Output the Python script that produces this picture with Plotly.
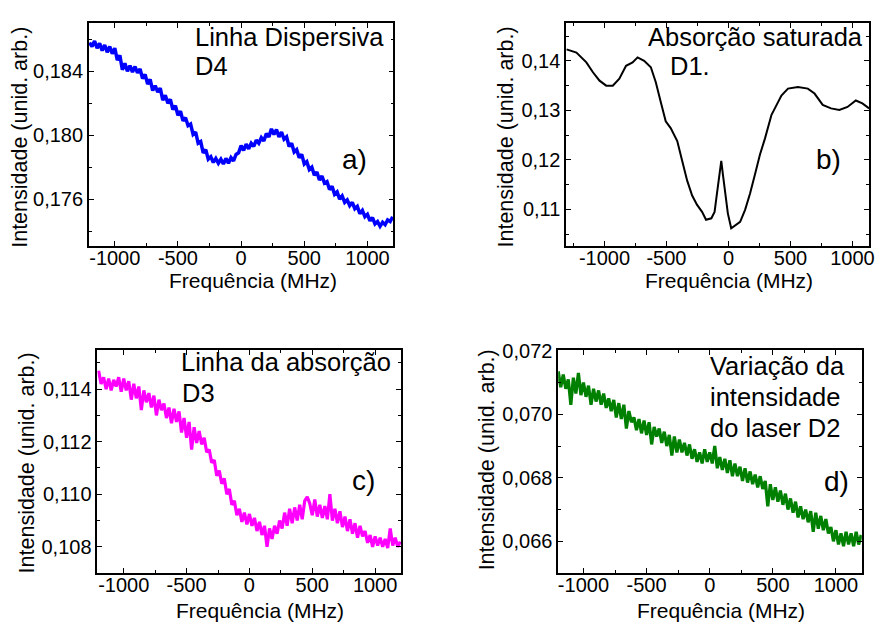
import plotly.graph_objects as go

W, H = 888, 623
FONT = "Liberation Sans, Arial, sans-serif"

# ---------------- data ----------------
freq_a = list(range(-1200, 1201, 20))
int_a = [
    0.18580, 0.18555, 0.18590, 0.18545, 0.18575, 0.18530, 0.18565, 0.18520, 0.18555, 0.18510,
    0.18545, 0.18470, 0.18500, 0.18410, 0.18450, 0.18400, 0.18435, 0.18395, 0.18430, 0.18390,
    0.18415, 0.18355, 0.18380, 0.18320, 0.18350, 0.18280, 0.18310, 0.18270, 0.18295, 0.18220,
    0.18250, 0.18200, 0.18225, 0.18160, 0.18185, 0.18125, 0.18150, 0.18090, 0.18110, 0.18060,
    0.18070, 0.18005, 0.18020, 0.17950, 0.17960, 0.17890, 0.17910, 0.17850, 0.17865, 0.17830,
    0.17855, 0.17825, 0.17850, 0.17820, 0.17855, 0.17825, 0.17860, 0.17840, 0.17880, 0.17890,
    0.17935, 0.17905, 0.17945, 0.17915, 0.17950, 0.17930, 0.17970, 0.17950, 0.17985, 0.17965,
    0.18010, 0.17990, 0.18040, 0.18005, 0.18035, 0.17990, 0.18020, 0.17975, 0.17990, 0.17930,
    0.17950, 0.17895, 0.17910, 0.17860, 0.17880, 0.17820, 0.17835, 0.17785, 0.17800, 0.17750,
    0.17770, 0.17720, 0.17745, 0.17700, 0.17710, 0.17660, 0.17680, 0.17630, 0.17645, 0.17600,
    0.17620, 0.17580, 0.17595, 0.17560, 0.17580, 0.17540, 0.17555, 0.17510, 0.17530, 0.17490,
    0.17505, 0.17465, 0.17485, 0.17445, 0.17460, 0.17430, 0.17455, 0.17440, 0.17470, 0.17460,
    0.17490,
]

freq_b = [-1306, -1226, -1146, -1093, -1040, -986, -933, -880, -826, -773, -733, -680,
          -626, -586, -546, -506, -466, -413, -373, -333, -293, -253, -213, -181, -138,
          -112, -93, -74, -58, -45, -26, -5, 22, 54, 94, 134, 174, 214, 254, 294, 347,
          374, 427, 480, 560, 640, 694, 760, 827, 894, 960, 1027, 1080, 1134]
int_b = [0.14233, 0.14167, 0.1397, 0.1377, 0.1360, 0.1350, 0.1350, 0.1364, 0.1390, 0.1397,
         0.1407, 0.1400, 0.1387, 0.1357, 0.1317, 0.1278, 0.12642, 0.1238, 0.1198, 0.1158,
         0.1128, 0.1109, 0.1095, 0.1079, 0.1082, 0.1095, 0.1132, 0.1171, 0.1198, 0.1171,
         0.1132, 0.1092, 0.1062, 0.1067, 0.1075, 0.1099, 0.1132, 0.1171, 0.1211, 0.1243,
         0.1291, 0.1304, 0.1330, 0.1344, 0.1347, 0.1344, 0.1334, 0.1311, 0.1304, 0.1301,
         0.1307, 0.1320, 0.1314, 0.1304]

freq_c = list(range(-1200, 1201, 20))
int_c = [
    0.11470, 0.11420, 0.11445, 0.11400, 0.11440, 0.11395, 0.11435, 0.11410, 0.11445, 0.11390,
    0.11440, 0.11395, 0.11430, 0.11360, 0.11420, 0.11365, 0.11410, 0.11320, 0.11395, 0.11350,
    0.11385, 0.11330, 0.11375, 0.11300, 0.11360, 0.11320, 0.11345, 0.11290, 0.11330, 0.11270,
    0.11325, 0.11275, 0.11315, 0.11235, 0.11290, 0.11215, 0.11275, 0.11170, 0.11255, 0.11195,
    0.11240, 0.11190, 0.11215, 0.11160, 0.11170, 0.11120, 0.11130, 0.11070, 0.11090, 0.11040,
    0.11060, 0.11000, 0.11020, 0.10960, 0.10975, 0.10920, 0.10945, 0.10895, 0.10930, 0.10885,
    0.10925, 0.10880, 0.10910, 0.10860, 0.10895, 0.10845, 0.10880, 0.10800, 0.10870, 0.10830,
    0.10880, 0.10850, 0.10900, 0.10870, 0.10930, 0.10880, 0.10945, 0.10890, 0.10950, 0.10900,
    0.10960, 0.10905, 0.10975, 0.10990, 0.10965, 0.10920, 0.10980, 0.10915, 0.10960, 0.10910,
    0.10955, 0.10905, 0.11000, 0.10900, 0.10945, 0.10890, 0.10935, 0.10875, 0.10915, 0.10860,
    0.10905, 0.10850, 0.10890, 0.10835, 0.10880, 0.10840, 0.10860, 0.10815, 0.10845, 0.10800,
    0.10840, 0.10805, 0.10835, 0.10800, 0.10830, 0.10795, 0.10870, 0.10805, 0.10835, 0.10800,
    0.10820,
]

freq_d = list(range(-1200, 1201, 20))
int_d = [
    0.07135, 0.07085, 0.07125, 0.07080, 0.07110, 0.07030, 0.07115, 0.07065, 0.07130, 0.07060,
    0.07100, 0.07055, 0.07090, 0.07030, 0.07080, 0.07040, 0.07075, 0.07030, 0.07065, 0.07020,
    0.07050, 0.07010, 0.07045, 0.06990, 0.07035, 0.06985, 0.07030, 0.06955, 0.07010, 0.06975,
    0.06990, 0.06950, 0.06985, 0.06940, 0.06980, 0.06935, 0.06975, 0.06905, 0.06960, 0.06930,
    0.06955, 0.06910, 0.06945, 0.06900, 0.06935, 0.06870, 0.06930, 0.06880, 0.06920, 0.06880,
    0.06910, 0.06870, 0.06905, 0.06860, 0.06890, 0.06850, 0.06880, 0.06845, 0.06890, 0.06850,
    0.06880, 0.06845, 0.06900, 0.06830, 0.06865, 0.06825, 0.06860, 0.06815, 0.06855, 0.06805,
    0.06845, 0.06805, 0.06835, 0.06790, 0.06830, 0.06785, 0.06820, 0.06780, 0.06810, 0.06770,
    0.06805, 0.06765, 0.06790, 0.06710, 0.06780, 0.06730, 0.06770, 0.06725, 0.06760, 0.06715,
    0.06750, 0.06700, 0.06735, 0.06690, 0.06725, 0.06675, 0.06710, 0.06670, 0.06700, 0.06660,
    0.06695, 0.06630, 0.06690, 0.06640, 0.06680, 0.06635, 0.06670, 0.06625, 0.06645, 0.06600,
    0.06635, 0.06590, 0.06625, 0.06585, 0.06630, 0.06590, 0.06625, 0.06585, 0.06630, 0.06590,
    0.06620,
]

assert len(freq_a) == len(int_a)
assert len(freq_b) == len(int_b)
assert len(freq_c) == len(int_c)
assert len(freq_d) == len(int_d)

# tick labels
xtick_vals = [-1000, -500, 0, 500, 1000]
xtick_text = ["-1000", "-500", "0", "500", "1000"]
ytick_a = [0.176, 0.180, 0.184]
ytick_a_text = ["0,176", "0,180", "0,184"]
ytick_b = [0.11, 0.12, 0.13, 0.14]
ytick_b_text = ["0,11", "0,12", "0,13", "0,14"]
ytick_c = [0.108, 0.110, 0.112, 0.114]
ytick_c_text = ["0,108", "0,110", "0,112", "0,114"]
ytick_d = [0.066, 0.068, 0.070, 0.072]
ytick_d_text = ["0,066", "0,068", "0,070", "0,072"]

x_title = "Frequência (MHz)"
y_title = "Intensidade (unid. arb.)"
notes_a = ["Linha Dispersiva", "D4"]
notes_b = ["Absorção saturada", "D1."]
notes_c = ["Linha da absorção", "D3"]
notes_d = ["Variação da", "intensidade", "do laser D2"]
panel_tags = ["a)", "b)", "c)", "d)"]


def px(x):
    return x / W


def py(y):
    return 1 - y / H


def axis(domain, rng, anchor, tvals, ttext, mvals, is_x):
    d = dict(
        domain=domain, range=rng, anchor=anchor,
        showline=True, linecolor="black", linewidth=1.6, mirror="ticks",
        ticks="inside", ticklen=5, tickwidth=1.3, tickcolor="black",
        tickmode="array", tickvals=tvals, ticktext=ttext,
        tickfont=dict(size=20, color="black", family=FONT),
        showgrid=False, zeroline=False,
        minor=dict(tickmode="array", tickvals=mvals, ticks="inside",
                   ticklen=3, tickwidth=1.2, tickcolor="black", showgrid=False),
    )
    if is_x:
        d["ticklabelstandoff"] = -7
    return d


fig = go.Figure()
fig.add_trace(go.Scatter(x=freq_a, y=int_a, mode="lines",
                         line=dict(color="#0000ff", width=3.5), xaxis="x", yaxis="y"))
fig.add_trace(go.Scatter(x=freq_b, y=int_b, mode="lines",
                         line=dict(color="black", width=2), xaxis="x2", yaxis="y2"))
fig.add_trace(go.Scatter(x=freq_c, y=int_c, mode="lines",
                         line=dict(color="#ff00ff", width=3.2), xaxis="x3", yaxis="y3"))
fig.add_trace(go.Scatter(x=freq_d, y=int_d, mode="lines",
                         line=dict(color="#008000", width=3.2), xaxis="x4", yaxis="y4"))

minor_x = [-1250, -750, -250, 250, 750, 1250]

layout = dict(
    width=W, height=H, margin=dict(l=0, r=0, t=0, b=0),
    paper_bgcolor="white", plot_bgcolor="white", showlegend=False,
    font=dict(family=FONT, color="black"),
    xaxis=axis([px(89.5), px(396)], [-1205, 1205], "y", xtick_vals, xtick_text, minor_x, True),
    yaxis=axis([py(240), py(13.3)], [0.17306, 0.18702], "x", ytick_a, ytick_a_text,
               [0.174, 0.178, 0.182, 0.186], False),
    xaxis2=axis([px(570), px(875)], [-1309, 1134], "y2", xtick_vals, xtick_text, minor_x, True),
    yaxis2=axis([py(240), py(13.3)], [0.10258, 0.14763], "x2", ytick_b, ytick_b_text,
                [0.105, 0.115, 0.125, 0.135, 0.145], False),
    xaxis3=axis([px(98), px(404)], [-1210, 1208], "y3", xtick_vals, xtick_text, minor_x, True),
    yaxis3=axis([py(572.3), py(345.5)], [0.10700, 0.11549], "x3", ytick_c, ytick_c_text,
                [0.109, 0.111, 0.113, 0.115], False),
    xaxis4=axis([px(562), px(867.7)], [-1200, 1205], "y4", xtick_vals, xtick_text, minor_x, True),
    yaxis4=axis([py(572.3), py(345.3)], [0.06500, 0.07203], "x4", ytick_d, ytick_d_text,
                [0.065, 0.067, 0.069, 0.071], False),
)

ann = []


def text(t, x, y, size, xanchor="left", angle=0):
    ann.append(dict(text=t, x=px(x), y=py(y), xref="paper", yref="paper",
                    xanchor=xanchor, yanchor="middle", showarrow=False, textangle=angle,
                    borderpad=0,
                    font=dict(size=size, color="black", family=FONT)))


# axis titles
for cx, cy in [(255, 275), (734, 275), (262, 610), (726, 610)]:
    text(x_title, cx, cy, 21, "center")
for cx, cy in [(20, 129), (509, 129), (27, 460), (490, 457)]:
    text(y_title, cx, cy, 21.5, "center", -90)

# panel notes
text(notes_a[0], 195, 27, 25.5)
text(notes_a[1], 195, 57, 25.5)
text(notes_b[0], 651, 27, 25.5)
text(notes_b[1], 674, 57, 25.5)
text(notes_c[0], 181, 358, 25.5)
text(notes_c[1], 182, 389, 25.5)
text(notes_d[0], 714, 362, 25.5)
text(notes_d[1], 714, 393, 25.5)
text(notes_d[2], 714, 425, 25.5)

for t, (cx, cy) in zip(panel_tags, [(357, 152), (834, 152), (366, 478), (842, 479)]):
    text(t, cx, cy, 28, "center")

layout["annotations"] = ann
fig.update_layout(**layout)
fig.write_html("out.html")
